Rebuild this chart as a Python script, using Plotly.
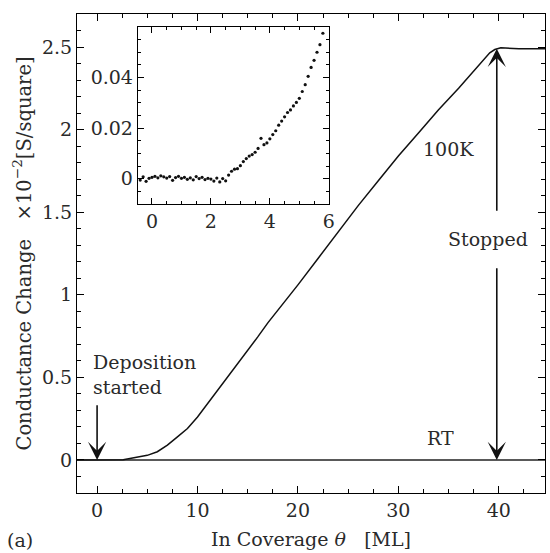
import plotly.graph_objects as go

# Main 100K curve (conductance change, x10^-2 S/square) vs coverage (ML)
theta_100k = [-2, 0, 2, 2.6, 3, 4, 5, 6, 7, 8, 9, 10, 11, 12, 13, 14, 15, 16, 17, 18, 19, 20,
              22, 24, 26, 28, 30, 32, 34, 36, 37, 38, 38.6, 39.1, 39.6, 40.2, 42, 44.6]
g_100k = [0, 0, 0, 0.002, 0.006, 0.016, 0.028, 0.05, 0.09, 0.14, 0.19, 0.26, 0.34, 0.42, 0.50,
          0.58, 0.665, 0.745, 0.83, 0.905, 0.98, 1.06, 1.22, 1.38, 1.54, 1.69, 1.84, 1.98, 2.12,
          2.25, 2.32, 2.385, 2.43, 2.465, 2.485, 2.495, 2.49, 2.49]

# Room-temperature curve
theta_rt = [-2, 10, 20, 30, 40, 44.6]
g_rt = [0, 0, 0, 0, 0, 0]

# Inset data (early stage)
inset_theta = [-0.4, -0.3, -0.2, -0.1, 0.0, 0.1, 0.2, 0.3, 0.4, 0.5, 0.6, 0.7, 0.8, 0.9, 1.0,
               1.1, 1.2, 1.3, 1.4, 1.5, 1.6, 1.7, 1.8, 1.9, 2.0, 2.1, 2.2, 2.3, 2.4, 2.5, 2.6,
               2.7, 2.8, 2.9, 3.0, 3.1, 3.2, 3.3, 3.4, 3.5, 3.6, 3.7, 3.8, 3.9, 4.0, 4.1, 4.2,
               4.3, 4.4, 4.5, 4.6, 4.7, 4.8, 4.9, 5.0, 5.1, 5.2, 5.3, 5.4, 5.5, 5.6, 5.7, 5.8]
inset_g = [-0.0005, 0.0008, -0.0010, 0.0002, 0.0006, 0.0010, 0.0004, 0.0012, 0.0008, 0.0003,
           0.0009, -0.0006, 0.0005, 0.0010, 0.0002, 0.0006, -0.0002, 0.0004, -0.0004, 0.0009,
           0.0001, 0.0006, -0.0003, 0.0002, -0.0001, -0.0009, 0.0003, -0.0012, 0.0001, -0.0008,
           0.0015, 0.0030, 0.0038, 0.0040, 0.0052, 0.0068, 0.0080, 0.0090, 0.0096, 0.0105,
           0.0120, 0.0160, 0.0135, 0.0142, 0.0158, 0.0175, 0.0190, 0.0212, 0.0228, 0.0245,
           0.0262, 0.0272, 0.0288, 0.0302, 0.0318, 0.0345, 0.0372, 0.0405, 0.0440, 0.0468,
           0.0500, 0.0530, 0.0575]

FONT = "DejaVu Serif"
TXT = "#2a2a2a"

fig = go.Figure()
fig.add_trace(go.Scatter(x=theta_rt, y=g_rt, mode="lines",
                         line=dict(color="#222", width=1.6), showlegend=False))
fig.add_trace(go.Scatter(x=theta_100k, y=g_100k, mode="lines",
                         line=dict(color="#111", width=1.5), showlegend=False))
fig.add_trace(go.Scatter(x=inset_theta, y=inset_g, mode="markers", xaxis="x2", yaxis="y2",
                         marker=dict(color="#111", size=3.2), showlegend=False))

axis_common = dict(showline=True, linecolor="black", linewidth=1.2, mirror="ticks",
                   ticks="inside", tickcolor="black", showgrid=False, zeroline=False,
                   automargin=False,
                   tickfont=dict(family=FONT, size=19, color=TXT))

fig.update_layout(
    width=550, height=553,
    margin=dict(l=77, r=5, t=14, b=60, autoexpand=False),
    paper_bgcolor="white", plot_bgcolor="white",
    font=dict(family=FONT, color=TXT),
    xaxis=dict(range=[-2, 44.6], tickvals=[0, 10, 20, 30, 40], ticklen=7, tickwidth=1,
               minor=dict(dtick=2.5, tick0=0, ticklen=4, ticks="inside", tickcolor="black"),
               title=dict(text="In Coverage <i>θ</i>   [ML]", font=dict(family=FONT, size=19),
                          standoff=12),
               domain=[0, 1], **axis_common),
    yaxis=dict(range=[-0.2, 2.7], tickvals=[0, 0.5, 1, 1.5, 2, 2.5],
               ticktext=["0", "0.5", "1", "1.5", "2", "2.5"], ticklen=7, tickwidth=1,
               minor=dict(dtick=0.1, tick0=0, ticklen=4, ticks="inside", tickcolor="black"),
               title=dict(text="Conductance Change   ×10<sup>−2</sup>[S/square]",
                          font=dict(family=FONT, size=19.5), standoff=5),
               domain=[0, 1], **axis_common),
    xaxis2=dict(range=[-0.48, 6.0], tickvals=[0, 2, 4, 6], ticklen=6, tickwidth=1,
                minor=dict(dtick=0.5, tick0=0, ticklen=3, ticks="inside", tickcolor="black"),
                domain=[0.130, 0.538], anchor="y2", **axis_common),
    yaxis2=dict(range=[-0.01, 0.06], tickvals=[0, 0.02, 0.04], ticktext=["0", "0.02", "0.04"],
                ticklen=6, tickwidth=1,
                minor=dict(dtick=0.005, tick0=0, ticklen=3, ticks="inside", tickcolor="black"),
                domain=[0.603, 0.973], anchor="x2", **axis_common),
)

ann_font = dict(family=FONT, size=19, color=TXT)
arrow = dict(showarrow=True, arrowhead=3, arrowsize=1.9, arrowwidth=1.6, arrowcolor="#111",
             text="", xref="x", yref="y", axref="x", ayref="y")
anns = [
    # Deposition started arrow
    dict(x=0, y=0.0, ax=0, ay=0.34, **arrow),
    dict(x=-0.6, y=0.52, xref="x", yref="y", text="Deposition<br>started", showarrow=False,
         xanchor="left", align="left", font=ann_font),
    # Stopped arrows
    dict(x=39.8, y=2.49, ax=39.8, ay=1.5, **arrow),
    dict(x=39.8, y=0.0, ax=39.8, ay=1.17, **arrow),
    dict(x=38.9, y=1.34, xref="x", yref="y", text="Stopped", showarrow=False, font=ann_font),
    dict(x=35.0, y=1.88, xref="x", yref="y", text="100K", showarrow=False, font=ann_font),
    dict(x=34.2, y=0.13, xref="x", yref="y", text="RT", showarrow=False, font=ann_font),
    dict(x=-0.122, y=-0.098, xref="paper", yref="paper", text="(a)", showarrow=False,
         xanchor="center", yanchor="middle", font=ann_font),
]
fig.update_layout(annotations=anns)

fig.write_html("out.html", config={"displayModeBar": False},
               post_script="document.body.style.margin='0px';")
